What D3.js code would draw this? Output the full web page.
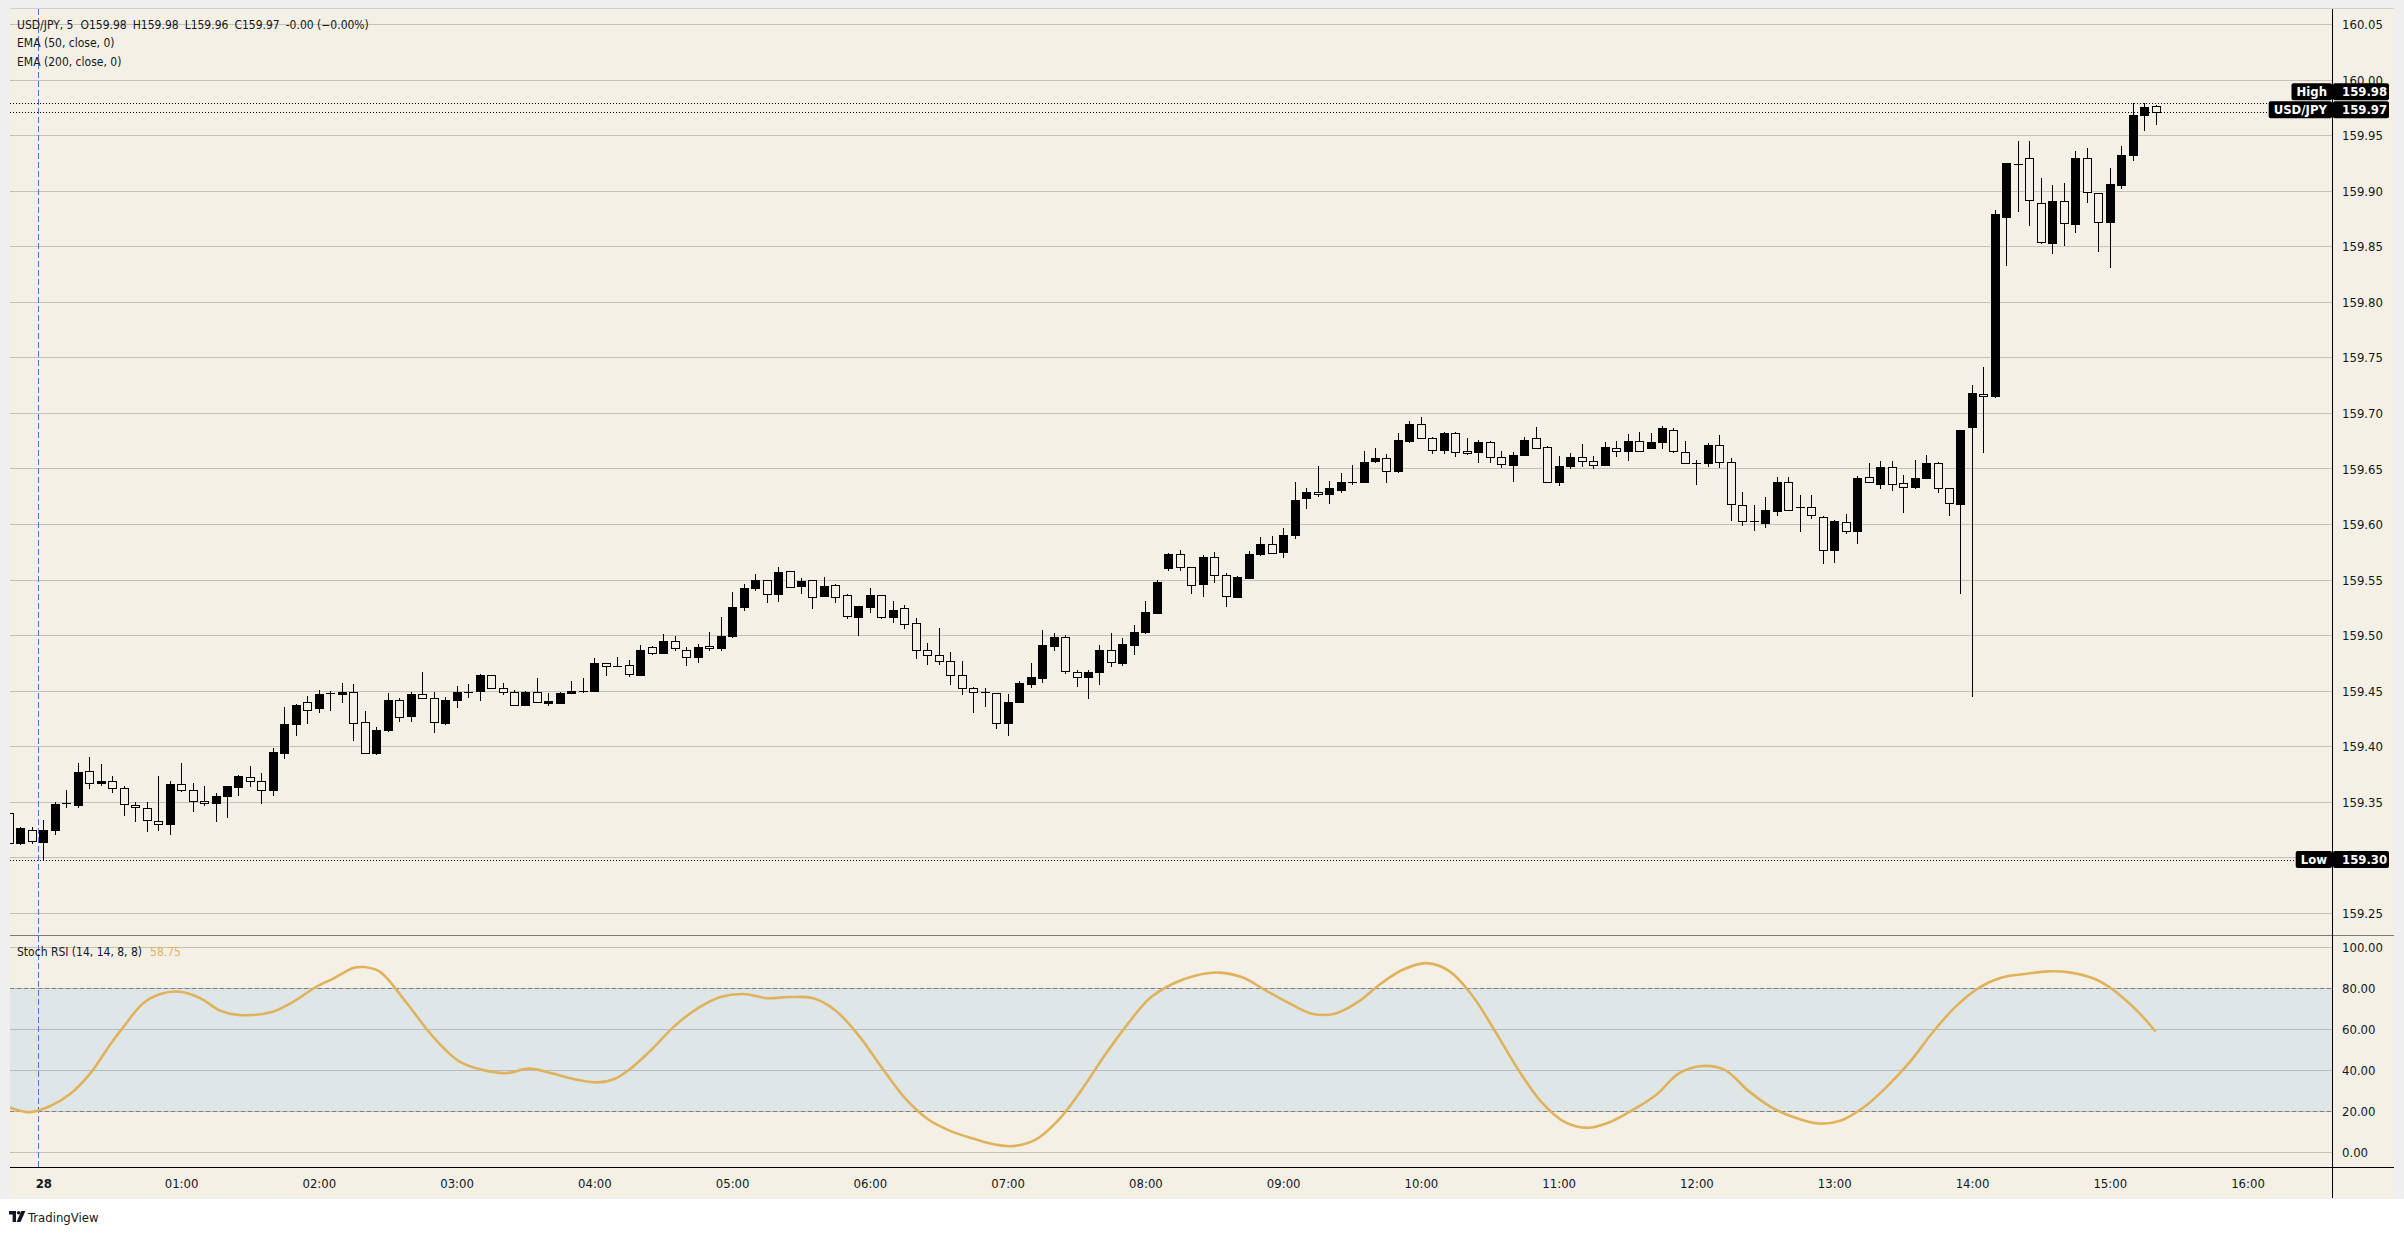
<!DOCTYPE html>
<html><head><meta charset="utf-8">
<script src="https://cdn.jsdelivr.net/npm/d3@7"></script>
<style>
html,body{margin:0;padding:0;background:#ffffff;}
svg{display:block;}
</style></head><body>
<svg id="chart" width="2404" height="1234"></svg>
<script>
// ---------------- DATA ----------------
// 5-minute bars, first bar = 23:45 on the 27th (index -3), index 0 = 00:00 on the 28th
const firstBarIndex = -3;
const openP = [
159.340,159.313,159.325,159.314,159.325,159.348,159.347,159.378,159.367,159.369,
159.362,159.347,159.344,159.333,159.330,159.366,159.361,159.351,159.349,159.355,
159.363,159.372,159.369,159.361,159.394,159.420,159.440,159.434,159.448,159.447,
159.449,159.422,159.394,159.415,159.442,159.427,159.447,159.443,159.421,159.442,
159.448,159.450,159.464,159.452,159.449,159.437,159.449,159.439,159.439,159.448,
159.450,159.450,159.475,159.472,159.473,159.464,159.489,159.484,159.495,159.487,
159.480,159.490,159.488,159.499,159.525,159.542,159.550,159.537,159.558,159.544,
159.550,159.535,159.545,159.536,159.516,159.525,159.536,159.516,159.524,159.511,
159.487,159.482,159.477,159.464,159.452,159.449,159.448,159.421,159.440,159.456,
159.461,159.490,159.498,159.467,159.462,159.467,159.487,159.475,159.491,159.503,
159.520,159.560,159.573,159.561,159.546,159.570,159.554,159.534,159.551,159.573,
159.582,159.575,159.590,159.623,159.629,159.627,159.631,159.638,159.638,159.657,
159.659,159.648,159.675,159.690,159.677,159.667,159.682,159.666,159.665,159.674,
159.660,159.653,159.662,159.677,159.669,159.638,159.652,159.660,159.657,159.653,
159.668,159.666,159.675,159.668,159.674,159.685,159.665,159.655,159.655,159.671,
159.656,159.617,159.603,159.601,159.612,159.638,159.614,159.615,159.606,159.577,
159.602,159.594,159.642,159.636,159.651,159.637,159.633,159.641,159.655,159.632,
159.618,159.687,159.717,159.715,159.876,159.923,159.929,159.889,159.853,159.891,
159.870,159.929,159.898,159.872,159.905,159.932,159.968,159.976];
const highP = [
159.343,159.327,159.327,159.334,159.350,159.361,159.385,159.390,159.384,159.373,
159.364,159.350,159.350,159.373,159.369,159.385,159.367,159.364,159.358,159.364,
159.374,159.382,159.376,159.398,159.435,159.438,159.445,159.451,159.450,159.457,
159.456,159.432,159.417,159.448,159.443,159.449,159.467,159.449,159.444,159.454,
159.456,159.465,159.464,159.457,159.451,159.450,159.461,159.448,159.449,159.459,
159.461,159.479,159.475,159.480,159.478,159.491,159.490,159.501,159.499,159.489,
159.492,159.503,159.516,159.539,159.546,159.555,159.550,159.561,159.558,159.551,
159.550,159.552,159.546,159.537,159.526,159.542,159.536,159.531,159.527,159.515,
159.493,159.506,159.485,159.477,159.453,159.452,159.448,159.447,159.459,159.475,
159.505,159.502,159.500,159.469,159.469,159.491,159.502,159.497,159.509,159.531,
159.550,159.574,159.577,159.561,159.572,159.575,159.556,159.553,159.576,159.588,
159.589,159.596,159.638,159.632,159.652,159.639,159.646,159.653,159.666,159.668,
159.663,159.682,159.693,159.696,159.678,159.683,159.683,159.677,159.676,159.675,
159.666,159.665,159.678,159.687,159.670,159.661,159.664,159.672,159.661,159.674,
159.675,159.681,159.683,159.682,159.688,159.686,159.675,159.658,159.673,159.680,
159.659,159.629,159.617,159.624,159.642,159.642,159.626,159.626,159.607,159.604,
159.609,159.643,159.655,159.657,159.657,159.644,159.658,159.662,159.656,159.632,
159.685,159.725,159.741,159.883,159.925,159.945,159.945,159.911,159.905,159.907,
159.936,159.938,159.898,159.920,159.940,159.979,159.979,159.977];
const lowP = [
159.310,159.312,159.313,159.298,159.321,159.345,159.345,159.362,159.365,159.359,
159.338,159.333,159.324,159.325,159.321,159.360,159.342,159.347,159.333,159.336,
159.356,159.364,159.349,159.356,159.389,159.410,159.421,159.431,159.433,159.440,
159.406,159.394,159.393,159.414,159.423,159.423,159.443,159.413,159.420,159.435,
159.444,159.442,159.452,159.447,159.437,159.437,159.440,159.437,159.439,159.448,
159.449,159.450,159.464,159.472,159.463,159.464,159.483,159.484,159.487,159.473,
159.476,159.487,159.487,159.498,159.523,159.541,159.530,159.531,159.543,159.538,
159.524,159.535,159.530,159.515,159.500,159.521,159.515,159.512,159.506,159.479,
159.474,159.474,159.456,159.447,159.431,159.436,159.416,159.410,159.440,159.453,
159.458,159.487,159.466,159.454,159.443,159.456,159.472,159.473,159.483,159.502,
159.520,159.559,159.559,159.538,159.535,159.548,159.526,159.534,159.551,159.572,
159.574,159.570,159.587,159.614,159.625,159.619,159.629,159.636,159.638,159.656,
159.638,159.647,159.674,159.677,159.664,159.664,159.661,159.663,159.656,159.656,
159.651,159.639,159.662,159.668,159.638,159.635,159.650,159.652,159.650,159.653,
159.661,159.658,159.666,159.668,159.668,159.665,159.655,159.636,159.652,159.651,
159.604,159.599,159.595,159.597,159.608,159.613,159.594,159.605,159.565,159.566,
159.592,159.583,159.638,159.632,159.631,159.611,159.632,159.641,159.629,159.608,
159.538,159.445,159.665,159.714,159.833,159.882,159.869,159.853,159.844,159.851,
159.863,159.890,159.846,159.831,159.902,159.928,159.955,159.960];
const closeP = [
159.313,159.326,159.315,159.325,159.348,159.349,159.377,159.367,159.369,159.362,
159.348,159.345,159.334,159.330,159.366,159.361,159.351,159.349,159.355,159.364,
159.373,159.369,159.361,159.395,159.420,159.437,159.433,159.447,159.447,159.449,
159.421,159.394,159.415,159.442,159.426,159.447,159.443,159.422,159.442,159.449,
159.449,159.464,159.452,159.449,159.437,159.449,159.440,159.441,159.448,159.450,
159.450,159.475,159.472,159.472,159.465,159.487,159.484,159.495,159.488,159.480,
159.489,159.488,159.499,159.525,159.542,159.550,159.537,159.557,159.543,159.549,
159.534,159.544,159.534,159.517,159.526,159.536,159.516,159.523,159.510,159.487,
159.482,159.477,159.464,159.452,159.449,159.448,159.421,159.440,159.457,159.462,
159.491,159.498,159.468,159.462,159.467,159.487,159.476,159.492,159.503,159.521,
159.548,159.573,159.561,159.545,159.570,159.554,159.535,159.552,159.573,159.582,
159.574,159.590,159.622,159.629,159.627,159.632,159.638,159.638,159.656,159.659,
159.648,159.676,159.690,159.677,159.667,159.682,159.665,159.664,159.674,159.660,
159.654,159.662,159.676,159.668,159.638,159.652,159.660,159.657,159.653,159.669,
159.666,159.675,159.666,159.674,159.686,159.666,159.655,159.655,159.671,159.656,
159.618,159.603,159.602,159.613,159.638,159.613,159.615,159.608,159.577,159.603,
159.594,159.641,159.638,159.651,159.636,159.633,159.641,159.655,159.632,159.619,
159.685,159.718,159.715,159.879,159.925,159.924,159.892,159.854,159.891,159.871,
159.929,159.899,159.872,159.906,159.932,159.968,159.975,159.971];

// Stoch RSI %K line, sampled (bar index, value)
const stochBar = [-3,-1.2,0.6,2.3,4.1,5.8,7,8.7,10.2,11.9,13.7,15.4,17,20,21.8,23.8,25.3,27,27.9,29.3,
31.6,33.6,35,36.3,38.3,40.3,42.3,44.3,46.3,48.3,49.7,51,53,55,57,59,61,63,65,67,69,71,73,75,77,79,81,83,84.4,86.4,
88.4,90.4,92.4,94.4,96.4,98.4,100.4,102.4,104.5,106.4,108.5,110.5,112.5,114.5,116.5,118.5,120.5,122.5,124.5,126.5,
128.5,130.5,132.5,134.5,136.5,138.5,140.5,142.5,144.5,146.5,148.5,150.5,152.5,154.6,156.6,158.6,160.6,162.6,164.6,166.6,
168.6,170.6,172.6,174.6,176.6,178.6,180,181.2,182.6,184];
const stochVal = [21.9,19.5,22.5,28.2,38.4,52.2,61.1,72.5,77,78.1,74.9,68.9,66.8,68.4,73.3,80.6,84.6,89.6,90.1,87.9,
73,58.5,50,44,40,38.5,40.7,38.5,35.5,34,35.5,40,50,61.5,70,75.5,77,75,75.5,75,69,57,41.5,26.7,16.3,10.4,6.7,3.7,3,6,
15.5,30,46.7,62,75,82,86,87.4,85,79,72.6,67.4,67.4,73,82,89,92,88,76,58.5,
40,24.4,14.8,11.9,14.8,20.7,28,38.5,42,40,30,22,17,14,15.5,22,32,44,58.5,71,
80,85,86.7,88,87.4,84.5,80.2,74.9,67.6,58.75];

const timeTickHours = [0,1,2,3,4,5,6,7,8,9,10,11,12,13,14,15,16];
const timeTickLabels = ["28","01:00","02:00","03:00","04:00","05:00","06:00","07:00","08:00","09:00","10:00","11:00","12:00","13:00","14:00","15:00","16:00"];
const priceTicks = [159.25,159.30,159.35,159.40,159.45,159.50,159.55,159.60,159.65,159.70,159.75,159.80,159.85,159.90,159.95,160.00,160.05];
const stochTicks = [0,20,40,60,80,100];
const stochBand = [20,80];
const legendMain = ["USD/JPY, 5","O159.98","H159.98","L159.96","C159.97","-0.00 (\u22120.00%)"];
const legendEma = ["EMA (50, close, 0)","EMA (200, close, 0)"];
const legendStoch = ["Stoch RSI (14, 14, 8, 8)","58.75"];

// ---------------- LAYOUT ----------------
const FONT = '"DejaVu Sans Condensed","DejaVu Sans",sans-serif';
const CREAM = "#f4f0e6", GRID = "#c6c1b7", INK = "#131722", STOCH = "#e0b25c";
const PL = 10, PR = 2332, AXR = 2394, PT = 9, MAINB = 935, STB = 1167, BOT = 1198;

const svg = d3.select("#chart").attr("font-family", FONT);
svg.append("rect").attr("width",2404).attr("height",1199).attr("fill","#efefef");
svg.append("rect").attr("x",PL).attr("y",PT).attr("width",AXR-PL).attr("height",BOT-PT).attr("fill",CREAM);
svg.append("line").attr("x1",PL).attr("x2",AXR).attr("y1",8.5).attr("y2",8.5).attr("stroke","#cfcfcf");

const x = d3.scaleLinear().domain([0,192]).range([43.3,2247.5]);
const y = d3.scaleLinear().domain([159.25,160.05]).range([912.85,24.05]);
const ys = d3.scaleLinear().domain([0,100]).range([1152.3,946.7]);
const crisp = v => Math.round(v) + 0.5;

const defs = svg.append("defs");
defs.append("clipPath").attr("id","cMain").append("rect").attr("x",PL).attr("y",PT).attr("width",PR-PL).attr("height",MAINB-PT);
defs.append("clipPath").attr("id","cStoch").append("rect").attr("x",PL).attr("y",MAINB+1).attr("width",PR-PL).attr("height",STB-MAINB-1);

// main gridlines
svg.append("g").selectAll("line").data(priceTicks).join("line")
  .attr("x1",PL).attr("x2",PR).attr("y1",d=>crisp(y(d))).attr("y2",d=>crisp(y(d)))
  .attr("stroke",GRID).attr("stroke-width",1);

// stoch gridlines
svg.append("g").selectAll("line").data(stochTicks).join("line")
  .attr("x1",PL).attr("x2",PR).attr("y1",d=>crisp(ys(d))).attr("y2",d=>crisp(ys(d)))
  .attr("stroke",GRID).attr("stroke-width",1);
// stoch band
svg.append("rect").attr("x",PL).attr("width",PR-PL)
  .attr("y",ys(stochBand[1])).attr("height",ys(stochBand[0])-ys(stochBand[1]))
  .attr("fill","rgba(33,150,243,0.1)");
svg.append("g").selectAll("line").data(stochBand).join("line")
  .attr("x1",PL).attr("x2",PR).attr("y1",d=>crisp(ys(d))).attr("y2",d=>crisp(ys(d)))
  .attr("stroke","#7f7f7f").attr("stroke-dasharray","4,3");

// session break (day start) dashed blue line
svg.append("line").attr("x1",crisp(x(-0.5))).attr("x2",crisp(x(-0.5))).attr("y1",PT).attr("y2",STB)
  .attr("stroke","#4a78d0").attr("stroke-dasharray","6,3");

// separators and axes lines
svg.append("line").attr("x1",PL).attr("x2",AXR).attr("y1",MAINB+0.5).attr("y2",MAINB+0.5).attr("stroke","#7a7a7a");
svg.append("line").attr("x1",PL).attr("x2",AXR).attr("y1",STB+0.5).attr("y2",STB+0.5).attr("stroke","#000");
svg.append("line").attr("x1",PR+0.5).attr("x2",PR+0.5).attr("y1",PT).attr("y2",BOT).attr("stroke","#000");

// ---------------- CANDLES ----------------
const bars = openP.map((o,k)=>({i:firstBarIndex+k,o,h:highP[k],l:lowP[k],c:closeP[k]}));
const gC = svg.append("g").attr("clip-path","url(#cMain)").attr("shape-rendering","crispEdges");
gC.selectAll("line.wick").data(bars).join("line").attr("class","wick")
  .attr("x1",d=>Math.round(x(d.i))+0.5).attr("x2",d=>Math.round(x(d.i))+0.5)
  .attr("y1",d=>Math.round(y(d.h))).attr("y2",d=>Math.round(y(d.l))+1)
  .attr("stroke","#000").attr("stroke-width",1);
bars.forEach(d=>{
  const cx = Math.round(x(d.i));
  const t = Math.round(y(Math.max(d.o,d.c))), b = Math.round(y(Math.min(d.o,d.c)));
  const hgt = b - t;
  if (hgt < 2) {
    gC.append("rect").attr("x",cx-4).attr("y",t).attr("width",9).attr("height",Math.max(1,hgt)).attr("fill","#000");
  } else if (d.c >= d.o) {
    gC.append("rect").attr("x",cx-4).attr("y",t).attr("width",9).attr("height",hgt+1).attr("fill","#000");
  } else {
    gC.append("rect").attr("x",cx-3.5).attr("y",t+0.5).attr("width",8).attr("height",hgt)
      .attr("fill",CREAM).attr("stroke","#000").attr("stroke-width",1);
  }
});

// dotted high / last / low lines
const hiV = d3.max(highP), loV = d3.min(lowP), lastV = closeP[closeP.length-1];
[hiV,lastV,loV].forEach(v=>{
  svg.append("line").attr("x1",PL).attr("x2",PR).attr("y1",crisp(y(v))).attr("y2",crisp(y(v)))
    .attr("stroke","#000").attr("stroke-dasharray","1,2");
});

// ---------------- STOCH LINE ----------------
const sPts = stochBar.map((b,k)=>[b,stochVal[k]]);
svg.append("path").attr("clip-path","url(#cStoch)")
  .attr("d", d3.line().x(d=>x(d[0])).y(d=>ys(d[1])).curve(d3.curveCatmullRom)(sPts))
  .attr("fill","none").attr("stroke",STOCH).attr("stroke-width",2.6).attr("stroke-linejoin","round");

// ---------------- AXES ----------------
const fmt2 = d3.format(".2f");
const gy = svg.append("g").attr("transform",`translate(${PR},0)`)
  .call(d3.axisRight(y).tickValues(priceTicks).tickFormat(fmt2).tickSize(0).tickPadding(10));
const gys = svg.append("g").attr("transform",`translate(${PR},0)`)
  .call(d3.axisRight(ys).tickValues(stochTicks).tickFormat(fmt2).tickSize(0).tickPadding(10));
const gx = svg.append("g").attr("transform",`translate(0,${STB})`)
  .call(d3.axisBottom(x).tickValues(timeTickHours.map(h=>h*12)).tickFormat((d,k)=>timeTickLabels[k]).tickSize(0));
[gy,gys,gx].forEach(g=>{
  g.select(".domain").remove();
  g.attr("font-family",FONT).attr("font-size",13);
  g.selectAll("text").attr("fill",INK);
});
gy.selectAll("text").attr("dy","0.35em");
gys.selectAll("text").attr("dy","0.35em");
gx.selectAll("text").attr("y",16).attr("dy","0.35em");
gx.selectAll("text").filter((d,k)=>k===0).attr("font-weight","bold");

// ---------------- PRICE LABELS ----------------
function priceTag(title, value, cy){
  const g = svg.append("g").attr("font-family",FONT).attr("font-size",13).attr("font-weight","bold");
  const bx = g.append("rect"), vx = g.append("rect");
  const tt = g.append("text").attr("x",PR-5).attr("y",cy).attr("dy","0.36em").attr("text-anchor","end").attr("fill","#fff").text(title);
  g.append("text").attr("x",PR+10).attr("y",cy).attr("dy","0.36em").attr("fill","#fff").text(value);
  const tw = tt.node().getComputedTextLength();
  bx.attr("x",PR-tw-10).attr("y",cy-8.5).attr("width",tw+10).attr("height",17).attr("rx",2).attr("fill","#000");
  vx.attr("x",PR+1).attr("y",cy-8.5).attr("width",56).attr("height",17).attr("rx",2).attr("fill","#000");
}
const lastY = y(lastV) - 2;
priceTag("USD/JPY", fmt2(lastV), lastY);
priceTag("High", fmt2(hiV), Math.min(y(hiV), lastY - 18));
priceTag("Low", fmt2(loV), y(loV));

// ---------------- LEGENDS ----------------
const lg = svg.append("g").attr("font-family",FONT).attr("font-size",12).attr("fill",INK);
const t1 = lg.append("text").attr("x",17).attr("y",25).attr("dy","0.35em");
legendMain.forEach((s,k)=>t1.append("tspan").attr("dx",k===0?0:(k===1?7:6)).text(s));
legendEma.forEach((s,k)=>lg.append("text").attr("x",17).attr("y",43+k*19).attr("dy","0.35em").text(s));
const t3 = lg.append("text").attr("x",17).attr("y",952).attr("dy","0.35em");
t3.append("tspan").text(legendStoch[0]);
t3.append("tspan").attr("dx",8).attr("fill",STOCH).text(legendStoch[1]);

// ---------------- LOGO ----------------
const logo = svg.append("g").attr("transform","translate(9,1211)").attr("fill",INK);
logo.append("path").attr("d","M0 0 H7 V11 H3.6 V3.4 H0 Z");
logo.append("circle").attr("cx",9.6).attr("cy",1.8).attr("r",1.8);
logo.append("path").attr("d","M12.2 0 H16.4 L11.6 11 H7.6 Z");
svg.append("text").attr("x",28).attr("y",1217).attr("dy","0.35em").attr("font-family",FONT)
  .attr("font-size",13).attr("fill",INK).text("TradingView");
</script>
</body></html>
